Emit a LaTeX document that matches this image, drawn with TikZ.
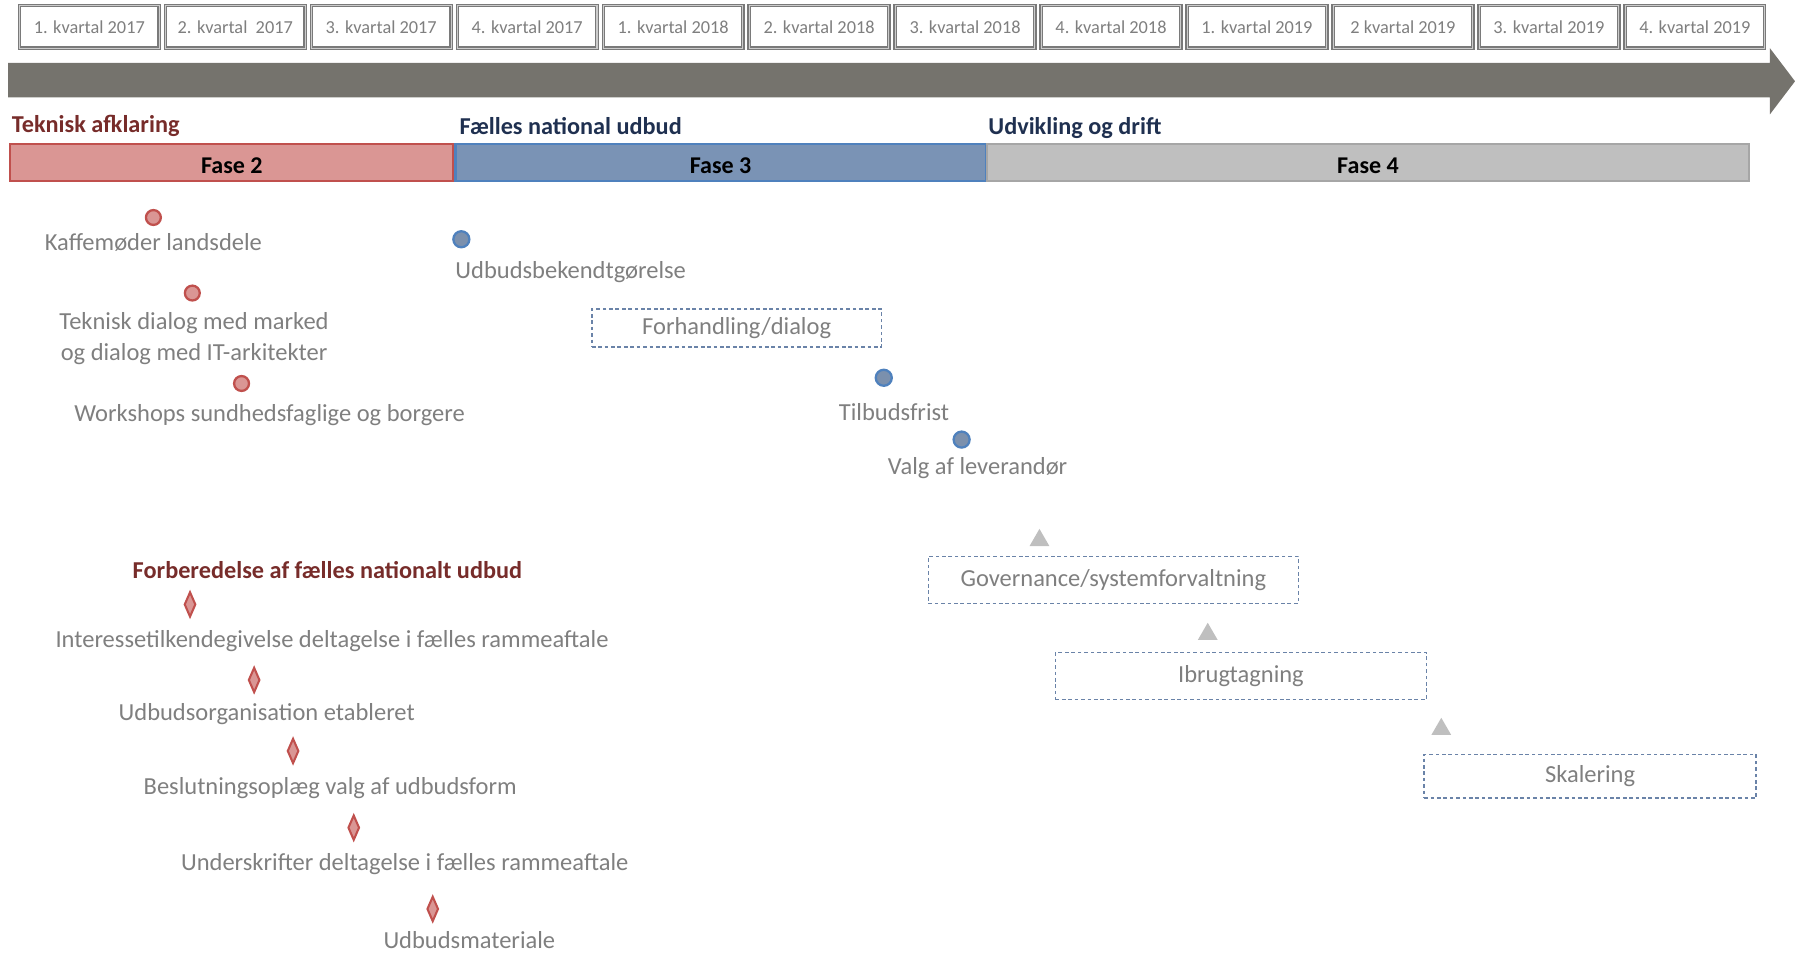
\documentclass[tikz,border=0pt]{standalone}
\usepackage{fontspec}
\setmainfont{Carlito}
\usetikzlibrary{shapes.geometric}
\definecolor{arrowgray}{HTML}{75736D}
\definecolor{txtgray}{HTML}{7F7F7F}
\definecolor{hdred}{HTML}{772C2A}
\definecolor{hdnavy}{HTML}{1F3050}
\definecolor{redline}{HTML}{C0504D}
\definecolor{redfill}{HTML}{DA9694}
\definecolor{bluline}{HTML}{4F81BD}
\definecolor{blufill}{HTML}{7A93B5}
\definecolor{grayline}{HTML}{A6A6A6}
\definecolor{grayfill}{HTML}{BFBFBF}
\definecolor{dashblue}{HTML}{6A83A8}
\definecolor{qline}{HTML}{7A7A7A}
\tikzset{
  qbox/.style={draw=qline, double=black!20, double distance=0.45pt, line width=0.55pt, fill=white,
    minimum width=61pt, minimum height=18.5pt, inner sep=0pt, text=txtgray,
    font=\fontsize{8}{10}\selectfont},
  phasebar/.style={line width=1pt, minimum height=16pt, inner sep=0pt, text height=9.4pt,
    font=\fontsize{10.5}{12}\selectfont\bfseries, text=black},
  phasehead/.style={anchor=west, inner sep=0pt, font=\fontsize{10.6}{12}\selectfont\bfseries},
  lbl/.style={inner sep=0pt, text=txtgray, font=\fontsize{10.7}{13.5}\selectfont, align=center},
  dbox/.style={draw=dashblue, dash pattern=on 1.6pt off 1.2pt, line width=0.6pt, inner sep=0pt,
    text=txtgray, font=\fontsize{10.7}{13}\selectfont},
  reddot/.style={circle, draw=redline, fill=redfill, line width=1pt, minimum size=6.5pt, inner sep=0pt},
  bludot/.style={circle, draw=bluline, fill=blufill!85!gray, line width=1pt, minimum size=7pt, inner sep=0pt},
  reddiam/.style={diamond, draw=redline, fill=redfill, line width=0.9pt, minimum width=5pt,
    minimum height=11pt, inner sep=0pt},
  tri/.style={regular polygon, regular polygon sides=3, fill=grayfill, minimum size=10pt, inner sep=0pt}
}
\begin{document}
\begin{tikzpicture}[x=0.5pt, y=-0.5pt]
\useasboundingbox (0,0) rectangle (1568,833);
% timeline arrow
\fill[arrowgray] (7,55) -- (1546,55) -- (1546,42) -- (1568,71) -- (1546,100) -- (1546,85) -- (7,85) -- cycle;
% quarter boxes
\foreach \lab [count=\i] in {1. kvartal 2017, 2. kvartal\ \ 2017, 3. kvartal 2017, 4. kvartal 2017,
  1. kvartal 2018, 2. kvartal 2018, 3. kvartal 2018, 4. kvartal 2018,
  1. kvartal 2019, 2 kvartal 2019, 3. kvartal 2019, 4. kvartal 2019}
  \node[qbox] (q\i) at ({17+127.5*(\i-1)+61}, 23.5) {\lab};
% phase headings
\node[phasehead, text=hdred] (h2) at (10,110) {Teknisk afklaring};
\node[phasehead, text=hdnavy] (h3) at (401,110) {Fælles national udbud};
\node[phasehead, text=hdnavy] (h4) at (863,112) {Udvikling og drift};
% phase bars
\node[phasebar, draw=redline, fill=redfill, minimum width=193.5pt] (f2) at (202.5,142) {Fase 2};
\node[phasebar, draw=bluline, fill=blufill, minimum width=231.5pt] (f3) at (629.5,142) {Fase 3};
\node[phasebar, draw=grayline, fill=grayfill, minimum width=333pt] (f4) at (1195,142) {Fase 4};
% fase 2 milestones
\node[reddot] (d1) at (134,190) {};
\node[lbl] (l1) at (134,212) {Kaffemøder landsdele};
\node[reddot] (d2) at (168,256) {};
\node[lbl] (l2) at (169.5,295.5) {Teknisk dialog med marked\\og dialog med IT-arkitekter};
\node[reddot] (d3) at (211,335) {};
\node[lbl] (l3) at (235.5,363) {Workshops sundhedsfaglige og borgere};
% fase 3 milestones
\node[bludot] (b1) at (403,209) {};
\node[lbl] (m1) at (498.5,238) {Udbudsbekendtgørelse};
\node[dbox, minimum width=126.5pt, minimum height=16.5pt] (forh) at (643.5,286.5) {Forhandling/dialog};
\node[bludot] (b2) at (772,330) {};
\node[lbl] (m2) at (781,360) {Tilbudsfrist};
\node[bludot] (b3) at (840,384) {};
\node[lbl] (m3) at (854,409) {Valg af leverandør};
% fase 4 activities
\node[tri] (t1) at (908,472) {};
\node[dbox, minimum width=161.5pt, minimum height=20.5pt] (gov) at (972.5,506.5) {Governance/systemforvaltning};
\node[tri] (t2) at (1055,554) {};
\node[dbox, minimum width=162pt, minimum height=20.5pt] (ibr) at (1084,590.5) {Ibrugtagning};
\node[tri] (t3) at (1259,637) {};
\node[dbox, minimum width=145pt, minimum height=19pt] (ska) at (1389,678) {Skalering};
% forberedelse
\node[inner sep=0pt, text=hdred, font=\fontsize{10.6}{12}\selectfont\bfseries] (forb) at (286,498) {Forberedelse af fælles nationalt udbud};
\node[reddiam] (r1) at (166,528) {};
\node[lbl] (p1) at (290,560) {Interessetilkendegivelse deltagelse i fælles rammeaftale};
\node[reddiam] (r2) at (222,594) {};
\node[lbl] (p2) at (233,624) {Udbudsorganisation etableret};
\node[reddiam] (r3) at (256,656) {};
\node[lbl] (p3) at (288.5,688) {Beslutningsoplæg valg af udbudsform};
\node[reddiam] (r4) at (309,723) {};
\node[lbl] (p4) at (353.5,755) {Underskrifter deltagelse i fælles rammeaftale};
\node[reddiam] (r5) at (378,794) {};
\node[lbl] (p5) at (410,821) {Udbudsmateriale};
\end{tikzpicture}
\end{document}
